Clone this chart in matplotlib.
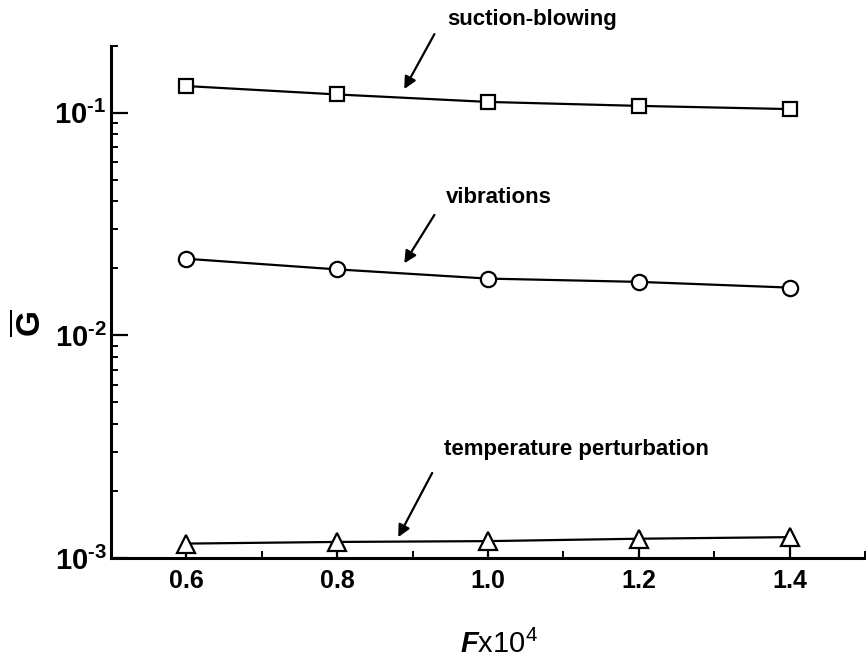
import matplotlib
matplotlib.use("Agg")
import matplotlib.pyplot as plt
from matplotlib.ticker import MultipleLocator, LogLocator, NullFormatter

plt.rcParams['font.family'] = ['Liberation Sans', 'DejaVu Sans']
plt.rcParams['mathtext.fontset'] = 'custom'
plt.rcParams['mathtext.rm'] = 'Liberation Sans:bold'
plt.rcParams['mathtext.bf'] = 'Liberation Sans:bold'
plt.rcParams['mathtext.it'] = 'Liberation Sans:bold:italic'
plt.rcParams['mathtext.sf'] = 'Liberation Sans'

F = [0.6, 0.8, 1.0, 1.2, 1.4]
suction_blowing = [0.132, 0.121, 0.112, 0.1075, 0.104]
vibrations = [0.0221, 0.0198, 0.0180, 0.0174, 0.0164]
temperature = [0.00116, 0.00118, 0.00119, 0.00122, 0.00124]
xticks = [0.6, 0.8, 1.0, 1.2, 1.4]
xticklabels = ['0.6', '0.8', '1.0', '1.2', '1.4']
yticks = [1e-3, 1e-2, 1e-1]
yticklabels = [r'$10^{\text{-}3}$', r'$10^{\text{-}2}$', r'$10^{\text{-}1}$']

fig = plt.figure(figsize=(8.66, 6.65), dpi=100)
ax = fig.add_axes([0.128, 0.161, 0.871, 0.770])

common = dict(color='black', lw=1.6, mfc='white', mec='black', mew=1.6, clip_on=False, zorder=3)
ax.plot(F, suction_blowing, marker='s', ms=10.5, **common)
ax.plot(F, vibrations, marker='o', ms=11, **common)
ax.plot(F, temperature, marker='^', ms=12.5, **common)

ax.set_yscale('log')
ax.set_xlim(0.5, 1.5)
ax.set_ylim(1e-3, 0.2)

ax.set_xticks(xticks)
ax.set_xticklabels(xticklabels, fontsize=18, fontweight='bold')
ax.xaxis.set_minor_locator(MultipleLocator(0.1))
ax.set_yticks(yticks)
ax.set_yticklabels(yticklabels, fontsize=21)
ax.yaxis.set_minor_locator(LogLocator(base=10, subs=range(2, 10)))
ax.yaxis.set_minor_formatter(NullFormatter())

ax.tick_params(axis='both', which='major', direction='in', length=10, width=1.6, pad=8)
ax.tick_params(axis='both', which='minor', direction='in', length=5, width=1.4)
ax.tick_params(top=False, right=False, which='both')
ax.tick_params(axis='y', which='major', length=12, pad=3)

for s in ['top', 'right']:
    ax.spines[s].set_visible(False)
for s in ['left', 'bottom']:
    ax.spines[s].set_linewidth(2.2)

ax.set_xlabel(r'$\mathit{F}\mathsf{x10^{4}}$', fontsize=21)
ax.xaxis.set_label_coords(0.515, -0.14)
fig.text(0.034, 0.515, r'$\overline{\mathbf{G}}$', rotation=90, fontsize=24,
         ha='center', va='center')

arrow = dict(arrowstyle='-|>', color='black', lw=1.6, mutation_scale=18, shrinkA=0, shrinkB=0)
ax.annotate('', xy=(0.889, 0.128), xytext=(0.929, 0.226), arrowprops=arrow, annotation_clip=False)
ax.annotate('', xy=(0.889, 0.0211), xytext=(0.929, 0.0348), arrowprops=arrow, annotation_clip=False)
ax.annotate('', xy=(0.881, 0.00124), xytext=(0.926, 0.00241), arrowprops=arrow, annotation_clip=False)

tk = dict(fontsize=16, fontweight='bold', ha='center', va='center', clip_on=False)
ax.text(1.058, 0.262, 'suction-blowing', **tk)
ax.text(1.015, 0.0415, 'vibrations', **tk)
ax.text(1.117, 0.00306, 'temperature perturbation', **tk)

fig.savefig('out.png', dpi=100)
